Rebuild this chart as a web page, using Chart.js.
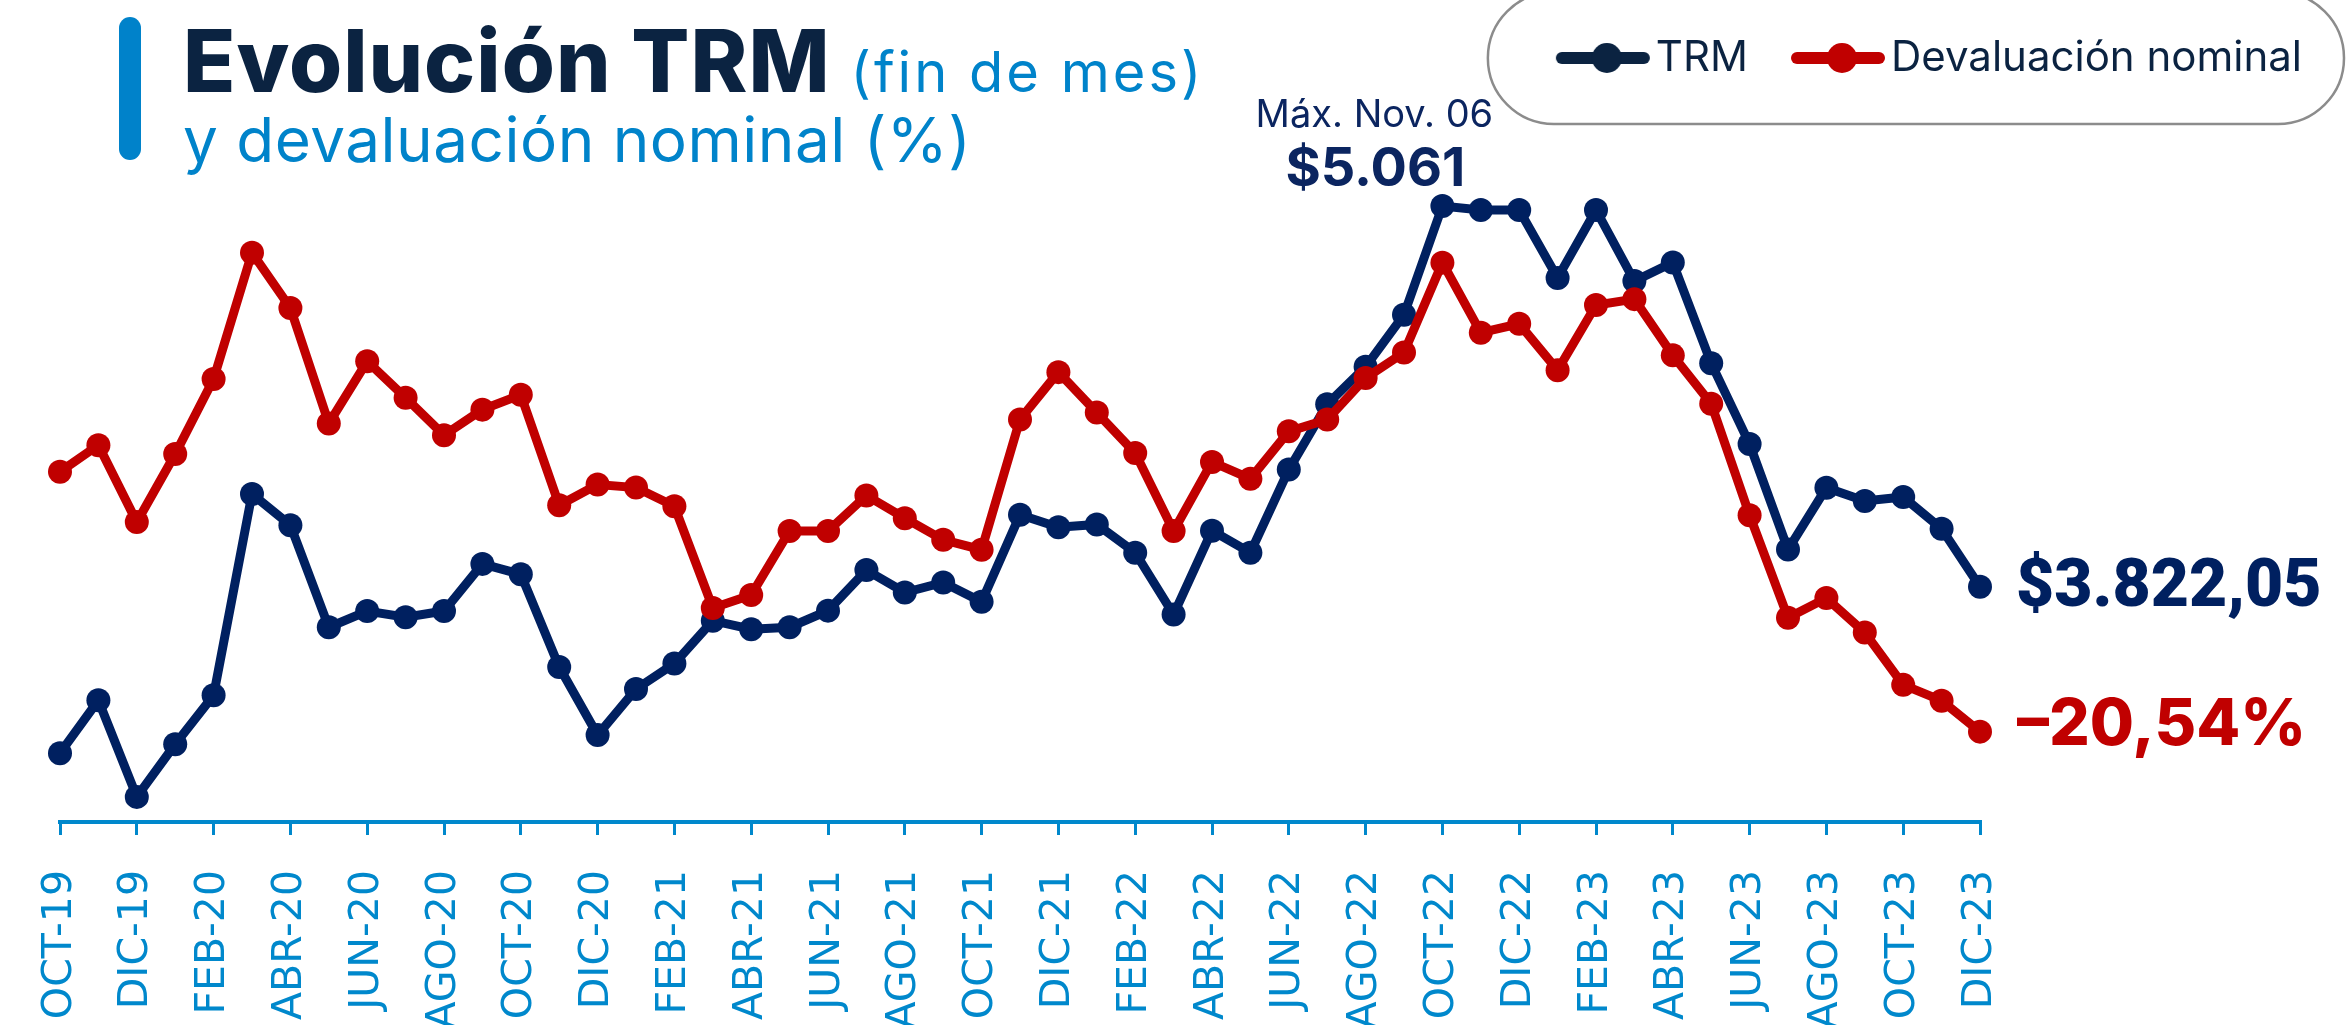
<!DOCTYPE html>
<html lang="es">
<head>
<meta charset="utf-8">
<title>Evolución TRM</title>
<script src="https://cdn.jsdelivr.net/npm/chart.js@4.4.1/dist/chart.umd.min.js"></script>
<style>
  html, body { margin: 0; padding: 0; background: #fff; overflow: hidden; }
  #wrap { position: relative; width: 2348px; height: 1025px; }
  #chart { position: absolute; left: 0; top: 0; }
  .bar { position: absolute; left: 119px; top: 17px; width: 22px; height: 143px; border-radius: 11px; background: #0082ca; }
  .t1 { position: absolute; left: 183px; top: 18px; font: 800 86px/1 Inter, sans-serif; color: #0b2341; white-space: nowrap; letter-spacing: 1px; }
  .t1 span { font-size: 56px; font-weight: 400; color: #0083ca; letter-spacing: 3px; }
  .t2 { position: absolute; left: 183px; top: 109px; font: 400 62px/1 Inter, sans-serif; color: #0083ca; white-space: nowrap; letter-spacing: 0.5px; }
</style>
</head>
<body>
<div id="wrap">
  <canvas id="chart" width="2348" height="1025"></canvas>
  <div class="bar"></div>
  <div class="t1">Evolución TRM <span>(fin de mes)</span></div>
  <div class="t2">y devaluación nominal (%)</div>
</div>
<script>
const months = [
  'OCT-19', 'NOV-19', 'DIC-19',
  'ENE-20', 'FEB-20', 'MAR-20', 'ABR-20', 'MAY-20', 'JUN-20', 'JUL-20', 'AGO-20', 'SEP-20', 'OCT-20', 'NOV-20', 'DIC-20',
  'ENE-21', 'FEB-21', 'MAR-21', 'ABR-21', 'MAY-21', 'JUN-21', 'JUL-21', 'AGO-21', 'SEP-21', 'OCT-21', 'NOV-21', 'DIC-21',
  'ENE-22', 'FEB-22', 'MAR-22', 'ABR-22', 'MAY-22', 'JUN-22', 'JUL-22', 'AGO-22', 'SEP-22', 'OCT-22', 'NOV-22', 'DIC-22',
  'ENE-23', 'FEB-23', 'MAR-23', 'ABR-23', 'MAY-23', 'JUN-23', 'JUL-23', 'AGO-23', 'SEP-23', 'OCT-23', 'NOV-23', 'DIC-23'
];

// TRM fin de mes (COP)
const trm = [
  3391, 3528, 3278,
  3414, 3541, 4062, 3981, 3717, 3759, 3743, 3759, 3881, 3854, 3614, 3438,
  3557, 3623, 3734, 3712, 3717, 3760, 3865, 3807, 3833, 3783, 4008, 3976,
  3983, 3910, 3750, 3967, 3910, 4125, 4294, 4391, 4526, 4807, 4797, 4797,
  4621, 4797, 4613, 4661, 4400, 4191, 3918, 4078, 4044, 4054, 3972, 3822.05
];

// devaluación nominal anual (%)
const devaluacion = [
  5.8, 8.5, 0.7,
  7.6, 15.2, 28.0, 22.4, 10.7, 17.0, 13.3, 9.5, 12.1, 13.6, 2.4, 4.5,
  4.2, 2.3, -8.0, -6.7, -0.2, -0.2, 3.4, 1.1, -1.1, -2.1, 11.1, 15.9,
  11.8, 7.7, -0.2, 6.8, 5.1, 9.9, 11.1, 15.3, 17.9, 27.0, 19.9, 20.8,
  16.1, 22.7, 23.3, 17.6, 12.7, 1.4, -9.0, -7.0, -10.5, -15.8, -17.4, -20.54
];

const seriesNames = ['TRM', 'Devaluación nominal'];
const lineColors = ['#002060', '#c00000'];
const legendColors = ['#0b2341', '#c00000'];
const maxNote = ['Máx. Nov. 06', '$5.061'];
const lastTrmNote = '$3.822,05';
const lastDevNote = '–20,54%';

const axisBlue = '#0088cc';

function legendMarker(color) {
  const c = document.createElement('canvas');
  c.width = 200;
  c.height = 40;
  const ctx = c.getContext('2d');
  ctx.strokeStyle = color;
  ctx.lineWidth = 12;
  ctx.lineCap = 'round';
  ctx.beginPath();
  ctx.moveTo(77, 20);
  ctx.lineTo(159, 20);
  ctx.stroke();
  ctx.fillStyle = color;
  ctx.beginPath();
  ctx.arc(122, 20, 15, 0, Math.PI * 2);
  ctx.fill();
  return c;
}
const markers = legendColors.map(legendMarker);

const notes = {
  id: 'notes',
  beforeDraw(chart) {
    const hits = chart.legend.legendHitBoxes;
    if (!hits || !hits.length) return;
    const first = hits[0];
    const last = hits[hits.length - 1];
    const cy = first.top + first.height / 2;
    const r = 66;
    const left = first.left - 47;
    const right = last.left + last.width + 42;
    const ctx = chart.ctx;
    ctx.save();
    ctx.strokeStyle = '#8c8c8c';
    ctx.lineWidth = 2.5;
    ctx.beginPath();
    ctx.roundRect(left, cy - r, right - left, 2 * r, r);
    ctx.stroke();
    ctx.restore();
  },
  afterDatasetsDraw(chart) {
    const ctx = chart.ctx;
    const trmPts = chart.getDatasetMeta(0).data;
    const devPts = chart.getDatasetMeta(1).data;
    const iMax = trm.indexOf(Math.max(...trm));
    const pk = trmPts[iMax];
    const lt = trmPts[trmPts.length - 1];
    const ld = devPts[devPts.length - 1];

    ctx.save();
    ctx.textBaseline = 'alphabetic';
    ctx.textAlign = 'center';
    ctx.fillStyle = '#0b2560';
    ctx.font = '400 38px Inter';
    ctx.fillText(maxNote[0], pk.x - 68, pk.y - 79);
    ctx.font = '700 54px Inter';
    ctx.fillText(maxNote[1], pk.x - 67, pk.y - 20);

    ctx.textAlign = 'left';
    ctx.font = '900 66px Roboto';
    ctx.fillStyle = '#002060';
    ctx.fillText(lastTrmNote, lt.x + 36, lt.y + 19);
    ctx.font = '800 64px Inter';
    ctx.fillStyle = '#c00000';
    ctx.fillText(lastDevNote, ld.x + 37, ld.y + 13);
    ctx.restore();
  }
};

new Chart(document.getElementById('chart'), {
  type: 'line',
  data: {
    labels: months,
    datasets: [{
      label: seriesNames[0],
      data: trm,
      yAxisID: 'y',
      order: 1,
      borderColor: lineColors[0],
      backgroundColor: lineColors[0],
      borderWidth: 9,
      pointRadius: 12,
      pointBorderWidth: 0,
      pointBackgroundColor: lineColors[0],
      tension: 0
    }, {
      label: seriesNames[1],
      data: devaluacion,
      yAxisID: 'y1',
      order: 0,
      borderColor: lineColors[1],
      backgroundColor: lineColors[1],
      borderWidth: 9,
      pointRadius: 12,
      pointBorderWidth: 0,
      pointBackgroundColor: lineColors[1],
      tension: 0
    }]
  },
  options: {
    responsive: false,
    animation: false,
    events: [],
    layout: {
      padding: { top: 15, left: 60, right: 24, bottom: 0 }
    },
    plugins: {
      tooltip: { enabled: false },
      legend: {
        position: 'top',
        align: 'end',
        labels: {
          color: '#0b2341',
          font: { family: 'Inter', size: 42 },
          usePointStyle: true,
          pointStyleWidth: 100,
          padding: 22,
          generateLabels: (chart) => Chart.defaults.plugins.legend.labels.generateLabels(chart)
            .sort((a, b) => a.datasetIndex - b.datasetIndex)
            .map((item) => Object.assign(item, { pointStyle: markers[item.datasetIndex] }))
        }
      }
    },
    scales: {
      x: {
        afterFit: (scale) => { scale.height = 203; },
        border: { display: true, color: axisBlue, width: 4 },
        grid: {
          drawOnChartArea: false,
          drawTicks: true,
          tickLength: 13,
          lineWidth: 3,
          color: (ctx) => ctx.index % 2 === 0 ? axisBlue : 'rgba(0,0,0,0)'
        },
        ticks: {
          autoSkip: false,
          minRotation: 90,
          maxRotation: 90,
          padding: 35,
          color: axisBlue,
          font: { family: 'DejaVu Sans', size: 41 },
          callback: function (val, index) {
            return index % 2 === 0 ? this.getLabelForValue(val) : '';
          }
        }
      },
      y: {
        display: false,
        min: 3213,
        max: 5110
      },
      y1: {
        position: 'right',
        min: -29.7,
        max: 44.6,
        afterFit: (scale) => { scale.width = 344; },
        border: { display: false },
        grid: { display: false },
        ticks: { display: false }
      }
    }
  },
  plugins: [notes]
});
</script>
</body>
</html>
